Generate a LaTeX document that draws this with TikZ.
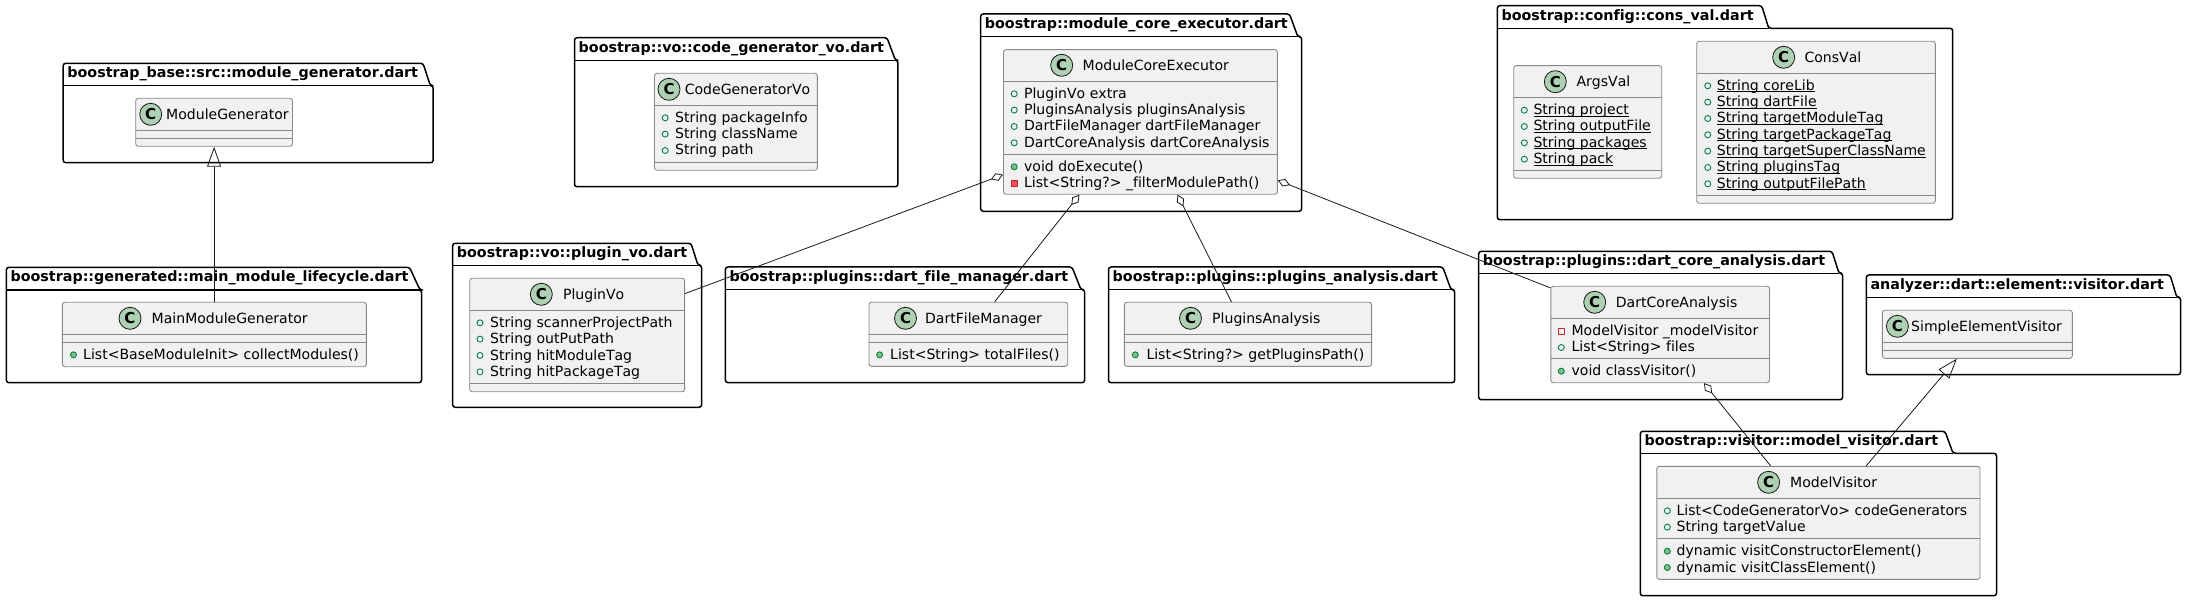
\documentclass[tikz,border=0pt]{standalone}
\usepackage{fontspec}
\setmainfont{DejaVu Sans}[Ligatures=NoCommon,Kerning=Off]
\usetikzlibrary{arrows.meta}
\definecolor{boxfill}{HTML}{F1F1F1}
\definecolor{boxline}{HTML}{888888}
\definecolor{circfill}{HTML}{ADD1B2}
\definecolor{linecol}{HTML}{181818}
\definecolor{publine}{HTML}{038048}
\definecolor{pubfill}{HTML}{84BE84}
\definecolor{privline}{HTML}{C82930}
\definecolor{privfill}{HTML}{F24D5C}
\tikzset{
  x=1pt,y=-1pt,
  pkgshape/.style={draw=black,line width=1.5pt,rounded corners=2.5pt,line join=round},
  pkgtitle/.style={anchor=base west,inner sep=0pt,font=\fontsize{14.3}{16}\bfseries\selectfont,text=black},
  clsbox/.style={draw=boxline,fill=boxfill,line width=0.9pt,rounded corners=2.5pt,inner sep=0pt},
  sepline/.style={draw=boxline,line width=0.9pt},
  circ/.style={circle,draw=linecol,fill=circfill,line width=0.8pt,minimum size=22pt,inner sep=0pt,font=\fontsize{15}{15}\bfseries\selectfont,text=black},
  hdrtext/.style={anchor=base west,inner sep=0pt,font=\fontsize{14.05}{16}\selectfont,text=black},
  rowtext/.style={anchor=base west,inner sep=0pt,font=\fontsize{14.05}{16}\selectfont,text=black},
  pubf/.style={draw=publine,line width=0.9pt},
  pubm/.style={draw=publine,fill=pubfill,line width=0.9pt},
  privf/.style={draw=privline,line width=0.9pt},
  privm/.style={draw=privline,fill=privfill,line width=0.9pt},
  conn/.style={draw=linecol,line width=0.8pt},
  aggr/.style={conn,{Diamond[open,length=13pt,width=8pt]}-},
  inherit/.style={conn,{Triangle[open,length=20pt,width=14pt]}-},
}
\newcount\rowcnt
\newcommand\ulin[1]{\setbox0=\hbox{#1}\rlap{\vrule width\wd0 height -1.2pt depth 2.2pt}\box0 }
\newcommand\pkgbox[9]{%
  % name x0 y0 tabtop tabbot ytab x1 y1 title
  \draw[pkgshape] (#2,#6) -- (#2,#3) -- (#4,#3) -- (#5,#6) -- (#7,#6) -- (#7,#8) -- (#2,#8) -- cycle;
  \draw[line width=1.5pt,draw=black] (#2,#6) -- (#5,#6);
  \node[pkgtitle] (#1) at (#2+4,#3+14.4) {#9};
}
\newcommand\clsnode[7]{%
  % name x0 y0 x1 y1 sep1 sep2
  \pgfmathsetmacro\clsw{#4-#2}\pgfmathsetmacro\clsh{#5-#3}%
  \pgfmathsetmacro\clscx{(#4+#2)/2}\pgfmathsetmacro\clscy{(#5+#3)/2}%
  \node[clsbox,minimum width=\clsw pt,minimum height=\clsh pt] (#1) at (\clscx,\clscy) {};
  \draw[sepline] (#2,#6) -- (#4,#6);
  \draw[sepline] (#2,#7) -- (#4,#7);
}
\newcommand\clshead[5]{%
  % name circx cy textx title
  \node[circ] (#1-icon) at (#2,#3) {C};
  \node[hdrtext] (#1-title) at (#4,#3+5) {#5};
}
\newcommand\rowtxt[3]{%
  % y textx text
  \global\advance\rowcnt by 1
  \node[rowtext] (row\the\rowcnt) at (#2,#1+5) {#3};
}
\newcommand\fld[4]{\draw[pubf] (#1,#2+0.5) circle[radius=3pt];\rowtxt{#2}{#3}{#4}}
\newcommand\mth[4]{\draw[pubm] (#1,#2+0.5) circle[radius=3pt];\rowtxt{#2}{#3}{#4}}
\newcommand\pfld[4]{\draw[privf] (#1-3,#2-2.5) rectangle (#1+3,#2+3.5);\rowtxt{#2}{#3}{#4}}
\newcommand\pmth[4]{\draw[privm] (#1-3,#2-2.5) rectangle (#1+3,#2+3.5);\rowtxt{#2}{#3}{#4}}
\begin{document}
\begin{tikzpicture}
\useasboundingbox (0,0) rectangle (2186,601);
% packages
\pkgbox{p1}{63.2}{63.3}{423}{430.4}{85.7}{433.2}{162.7}{boostrap\_base::src::module\_generator.dart}
\pkgbox{p2}{6.4}{267.3}{409.5}{420}{290}{421.5}{382.7}{boostrap::generated::main\_module\_lifecycle.dart}
\pkgbox{p3}{452.7}{243.3}{691}{698}{265.3}{701.6}{407.3}{boostrap::vo::plugin\_vo.dart}
\pkgbox{p4}{574.5}{37.7}{887}{895.4}{60.3}{897.9}{186.7}{boostrap::vo::code\_generator\_vo.dart}
\pkgbox{p5}{980.7}{14}{1289.5}{1297.8}{36.7}{1301.6}{211.3}{boostrap::module\_core\_executor.dart}
\pkgbox{p6}{725.4}{267}{1072}{1081}{289.7}{1084.6}{382.7}{boostrap::plugins::dart\_file\_manager.dart}
\pkgbox{p7}{1108.5}{267}{1442.8}{1451}{289.7}{1454.7}{382.7}{boostrap::plugins::plugins\_analysis.dart}
\pkgbox{p8}{1497.3}{5.7}{1761.7}{1768.7}{28.3}{1952.7}{219.7}{boostrap::config::cons\_val.dart}
\pkgbox{p9}{1478.7}{251.3}{1832}{1839}{273.3}{1842.6}{399.7}{boostrap::plugins::dart\_core\_analysis.dart}
\pkgbox{p10}{1866.3}{275}{2170}{2176.8}{297.3}{2180.5}{374.7}{analyzer::dart::element::visitor.dart}
\pkgbox{p11}{1640.3}{431.3}{1945}{1953}{453.3}{1996.5}{595.7}{boostrap::visitor::model\_visitor.dart}
% ModuleGenerator
\clsnode{mg}{135.7}{98.3}{292.5}{146.3}{130.3}{138.3}
\clshead{mg}{150.7}{114.3}{166}{ModuleGenerator}
% MainModuleGenerator
\clsnode{mmg}{62.4}{302.3}{366.4}{366.7}{334.3}{342.3}
\clshead{mmg}{130}{318.3}{151.5}{MainModuleGenerator}
\mth{73.5}{354.3}{83}{List<BaseModuleInit> collectModules()}
% PluginVo
\clsnode{pv}{469.7}{278.3}{684.6}{391.7}{310.3}{383.3}
\clshead{pv}{541.3}{294.3}{562.9}{PluginVo}
\fld{480}{322.3}{490}{String scannerProjectPath}
\fld{480}{338.6}{490}{String outPutPath}
\fld{480}{355}{490}{String hitModuleTag}
\fld{480}{371.3}{490}{String hitPackageTag}
% CodeGeneratorVo
\clsnode{cg}{654.5}{73.3}{817.4}{170.3}{105.3}{162.3}
\clshead{cg}{669}{89.3}{684.6}{CodeGeneratorVo}
\fld{665.2}{117.3}{674.9}{String packageInfo}
\fld{665.2}{133.6}{674.9}{String className}
\fld{665.2}{150}{674.9}{String path}
% ModuleCoreExecutor
\clsnode{mce}{1003.5}{49.7}{1277.4}{194.3}{81.3}{154.3}
\clshead{mce}{1061.7}{65.3}{1082.5}{ModuleCoreExecutor}
\fld{1014.2}{93.3}{1023.9}{PluginVo extra}
\fld{1014.2}{109.6}{1023.9}{PluginsAnalysis pluginsAnalysis}
\fld{1014.2}{126}{1023.9}{DartFileManager dartFileManager}
\fld{1014.2}{142.3}{1023.9}{DartCoreAnalysis dartCoreAnalysis}
\mth{1014.2}{166.3}{1023.9}{void doExecute()}
\pmth{1014.2}{182.6}{1023.9}{List<String?> \_filterModulePath()}
% DartFileManager
\clsnode{dfm}{869}{302.3}{1067.7}{366.3}{334.3}{342.3}
\clshead{dfm}{905.5}{318.3}{924.9}{DartFileManager}
\mth{879.6}{354.3}{890}{List<String> totalFiles()}
% PluginsAnalysis
\clsnode{pa}{1124.4}{302.3}{1371.6}{366.3}{334.3}{342.3}
\clshead{pa}{1190.5}{318.3}{1212}{PluginsAnalysis}
\mth{1135.3}{354.3}{1146.3}{List<String?> getPluginsPath()}
% ArgsVal
\clsnode{av}{1513.7}{65.7}{1661.7}{178.3}{97.7}{170.3}
\clshead{av}{1555.3}{81.7}{1576.3}{ArgsVal}
\fld{1524.3}{109.7}{1533.3}{\ulin{String project}}
\fld{1524.3}{126}{1533.3}{\ulin{String outputFile}}
\fld{1524.3}{142.3}{1533.3}{\ulin{String packages}}
\fld{1524.3}{158.7}{1533.3}{\ulin{String pack}}
% ConsVal
\clsnode{cv}{1696.7}{41.3}{1935.3}{203.3}{73.3}{195.3}
\clshead{cv}{1783.7}{57.3}{1804.3}{ConsVal}
\fld{1707.7}{85.3}{1716.7}{\ulin{String coreLib}}
\fld{1707.7}{101.6}{1716.7}{\ulin{String dartFile}}
\fld{1707.7}{118}{1716.7}{\ulin{String targetModuleTag}}
\fld{1707.7}{134.3}{1716.7}{\ulin{String targetPackageTag}}
\fld{1707.7}{150.6}{1716.7}{\ulin{String targetSuperClassName}}
\fld{1707.7}{167}{1716.7}{\ulin{String pluginsTag}}
\fld{1707.7}{183.3}{1716.7}{\ulin{String outputFilePath}}
% DartCoreAnalysis
\clsnode{dca}{1550.8}{286.3}{1769.5}{382.7}{318.7}{358.3}
\clshead{dca}{1594.7}{302.3}{1615.7}{DartCoreAnalysis}
\pfld{1561.3}{330.7}{1571.4}{ModelVisitor \_modelVisitor}
\fld{1561.3}{347}{1571.4}{List<String> files}
\mth{1561.3}{370.7}{1571.4}{void classVisitor()}
% SimpleElementVisitor
\clsnode{sev}{1882.3}{310.3}{2072.3}{358.3}{342.3}{350.3}
\clshead{sev}{1897.4}{326.3}{1911}{SimpleElementVisitor}
% ModelVisitor
\clsnode{mv}{1656.8}{466.3}{1980}{579.3}{498.3}{538.7}
\clshead{mv}{1768.6}{482.3}{1790}{ModelVisitor}
\fld{1667.3}{510.3}{1676.4}{List<CodeGeneratorVo> codeGenerators}
\fld{1667.3}{526.6}{1676.4}{String targetValue}
\mth{1667.3}{550.7}{1676.4}{dynamic visitConstructorElement()}
\mth{1667.3}{567}{1676.4}{dynamic visitClassElement()}
% connectors
\draw[inherit] (mg.south) -- (mg.south |- mmg.north);
\draw[aggr] (mce.201.08) -- (pv.21.2);
\draw[aggr] (mce.230.1) -- (dfm.51.8);
\draw[aggr] (mce.297.45) -- (pa.117.56);
\draw[aggr] (mce.337.4) -- (dca.157.54);
\draw[aggr] (dca.312.4) -- (mv.130.3);
\draw[inherit] (sev.230.76) -- (mv.50.24);
\end{tikzpicture}
\end{document}
